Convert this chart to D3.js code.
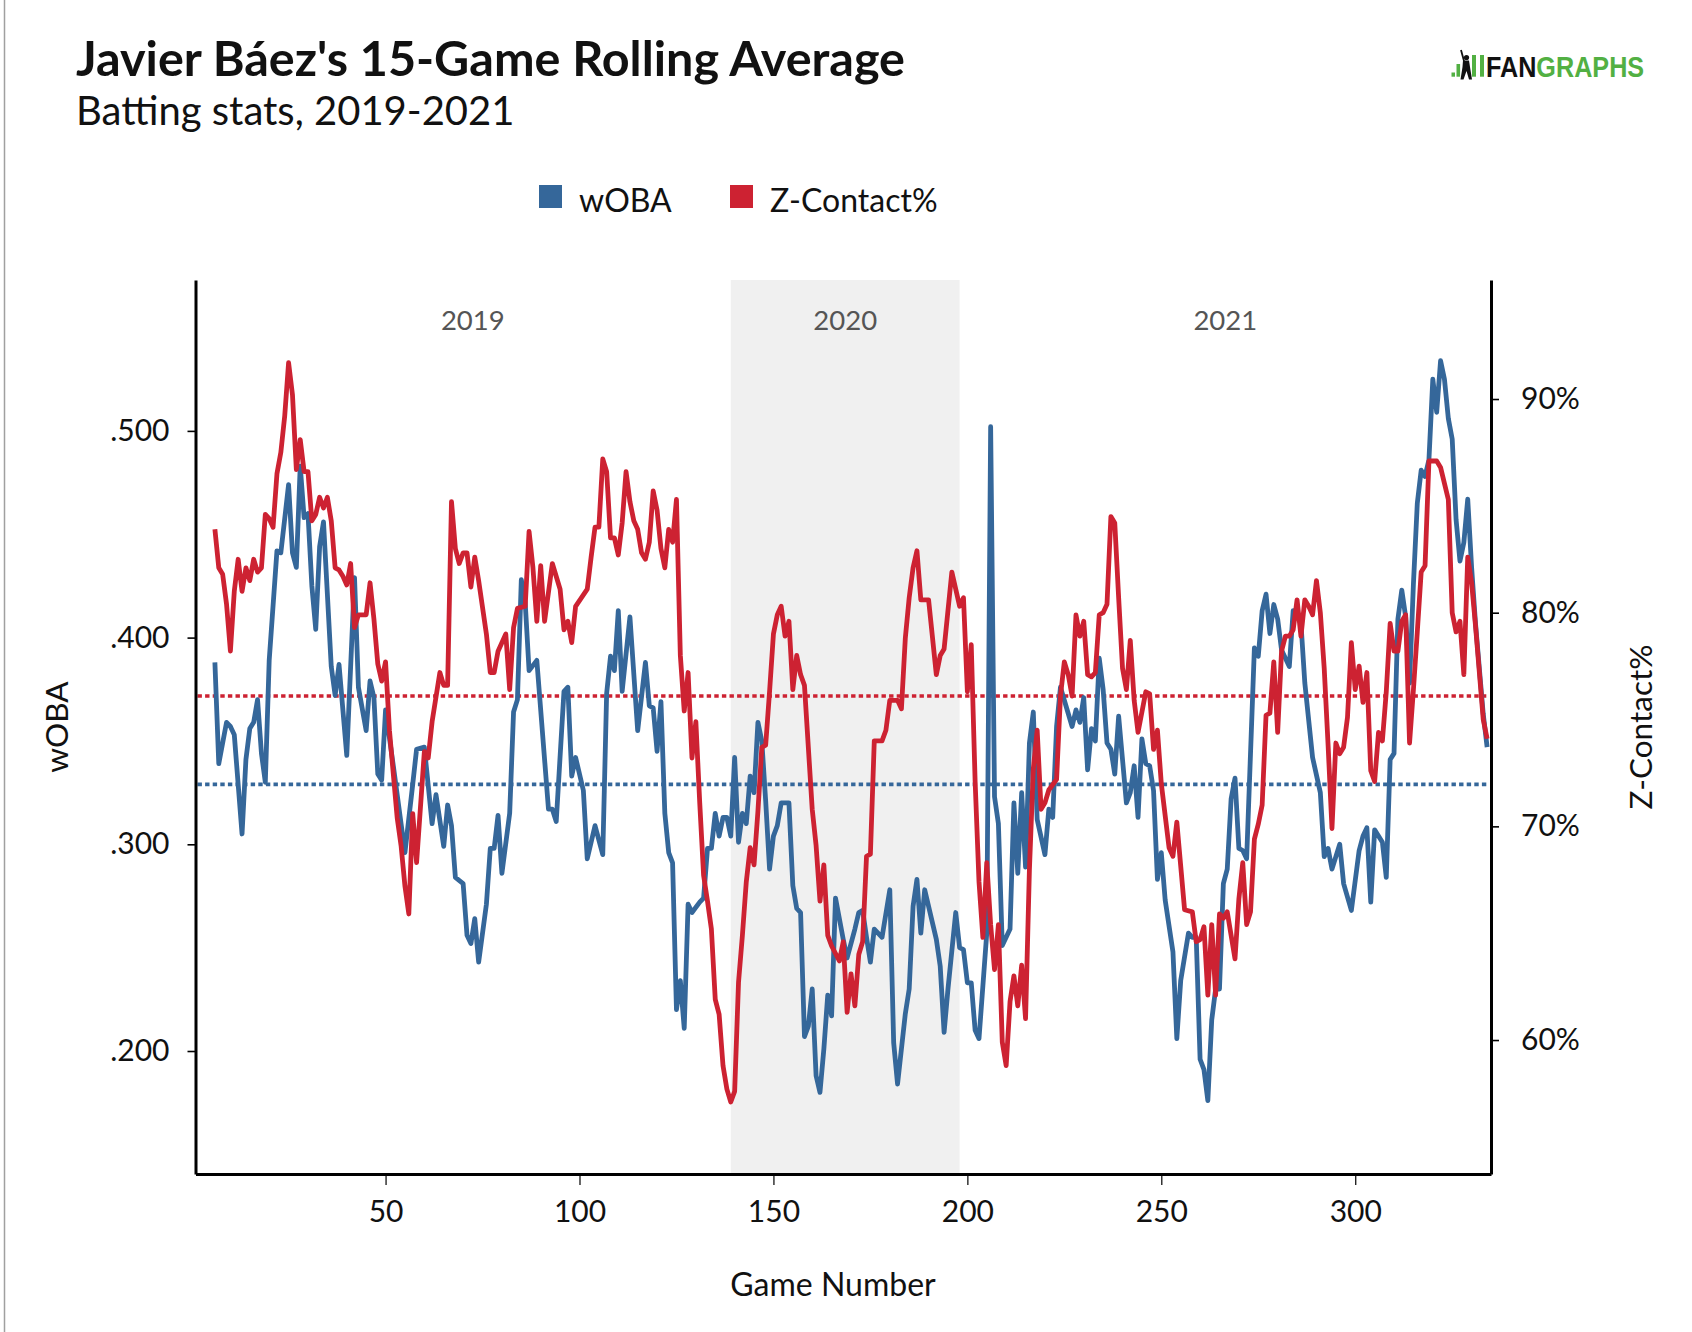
<!DOCTYPE html>
<html>
<head>
<meta charset="utf-8">
<script src="https://cdn.jsdelivr.net/npm/d3@7"></script>
<style>
  body { margin: 0; background: #fff; }
  svg { display: block; font-family: Lato, "Open Sans", sans-serif; }
</style>
</head>
<body>
<div id="chart"></div>
<script>
// 15-game rolling values (game number -> value)
var wobaGames = [6,7,9,10,11,13,14,15,16,17,
  18,19,20,22,23,25,26,27,28,29,
  30,31,32,33,34,36,37,38,40,42,
  43,45,46,47,48,49,50,52,55,57,
  58,60,62,63,65,66,67,68,70,71,
  72,73,74,76,77,78,79,80,82,83,
  84,85,86,87,89,92,93,94,96,97,
  98,99,101,102,104,106,107,108,109,110,
  111,113,115,117,118,119,120,121,122,123,
  124,125,126,127,128,129,131,132,133,134,
  135,136,137,138,139,140,141,142,143,144,
  145,146,147,148,149,150,151,152,154,155,
  156,157,158,159,160,161,162,163,164,165,
  166,168,169,171,172,173,174,175,176,178,
  180,181,182,184,185,186,187,188,189,191,
  192,193,194,195,197,198,199,200,201,202,
  203,205,206,207,208,209,211,212,213,214,
  215,216,217,218,220,221,222,223,224,227,
  228,229,230,231,232,233,234,235,236,237,
  238,239,241,242,243,244,245,246,247,248,
  249,250,251,253,254,255,257,258,259,260,
  261,262,263,264,265,266,267,268,269,270,
  271,272,274,275,276,277,278,279,280,281,
  283,284,285,286,287,289,291,292,293,294,
  296,297,299,301,302,303,304,305,307,308,
  309,310,311,312,313,314,315,316,317,318,
  319,320,321,322,323,324,325,326,327,328,
  329,330,331,333,334];
var wobaValues = [.388,.339,.359,.357,.353,.305,.341,.356,.359,.370,
  .344,.330,.389,.442,.441,.474,.441,.434,.483,.458,
  .460,.425,.404,.444,.456,.386,.372,.387,.343,.429,
  .376,.355,.379,.371,.334,.331,.365,.338,.296,.329,
  .346,.347,.310,.324,.299,.319,.309,.284,.281,.256,
  .252,.264,.243,.271,.298,.298,.314,.286,.315,.364,
  .370,.428,.417,.384,.389,.317,.317,.311,.374,.376,
  .333,.342,.326,.293,.309,.295,.373,.391,.384,.413,
  .374,.410,.355,.388,.367,.366,.345,.369,.315,.296,
  .291,.220,.234,.211,.271,.267,.272,.274,.298,.298,
  .315,.304,.313,.313,.304,.342,.301,.315,.310,.333,
  .325,.359,.350,.321,.288,.304,.309,.320,.320,.280,
  .269,.267,.207,.212,.230,.188,.180,.201,.227,.217,
  .274,.254,.245,.259,.267,.268,.255,.243,.259,.255,
  .278,.204,.184,.218,.230,.270,.283,.257,.278,.262,
  .254,.241,.209,.230,.267,.250,.249,.233,.233,.210,
  .206,.257,.502,.323,.310,.251,.259,.320,.286,.325,
  .289,.349,.364,.312,.295,.317,.313,.357,.376,.357,
  .365,.359,.371,.336,.356,.350,.390,.375,.349,.346,
  .334,.362,.320,.325,.338,.313,.351,.339,.338,.326,
  .283,.296,.273,.248,.206,.234,.257,.255,.255,.196,
  .191,.176,.215,.230,.230,.281,.288,.322,.332,.298,
  .297,.293,.395,.391,.413,.421,.402,.416,.409,.394,
  .386,.413,.413,.407,.378,.342,.325,.294,.298,.288,
  .300,.281,.268,.297,.304,.308,.272,.307,.301,.284,
  .341,.344,.409,.423,.410,.378,.426,.465,.481,.478,
  .486,.525,.509,.534,.525,.506,.496,.457,.437,.446,
  .467,.434,.407,.363,.347];

var zconGames = [6,7,8,9,10,11,12,13,14,15,
  16,17,18,19,20,21,22,23,24,25,
  26,27,28,29,30,31,32,33,34,35,
  36,37,38,39,40,41,42,43,45,46,
  47,48,49,50,51,53,54,55,56,57,
  58,60,61,62,64,65,66,67,68,69,
  70,71,72,73,74,76,77,78,79,81,
  82,83,84,86,87,88,89,90,91,93,
  95,96,97,98,99,102,103,104,105,106,
  107,108,109,110,111,112,113,114,115,116,
  117,118,119,120,121,122,123,124,125,126,
  127,128,129,130,131,132,133,134,135,136,
  137,138,139,140,141,142,143,144,145,146,
  147,148,149,150,151,152,153,154,155,156,
  157,158,160,161,162,163,164,165,167,168,
  169,170,171,172,173,174,175,176,178,179,
  180,182,183,184,185,186,187,188,190,192,
  193,194,196,198,199,200,201,202,203,204,
  205,206,207,208,209,210,211,212,213,214,
  215,216,217,218,219,220,221,223,224,225,
  226,227,228,229,230,231,232,233,234,235,
  236,237,238,239,240,241,242,243,244,246,
  247,248,249,250,252,253,254,256,258,259,
  260,261,262,263,264,265,266,267,269,270,
  271,272,273,274,275,276,277,278,279,280,
  281,282,283,284,285,286,287,288,289,290,
  291,292,293,294,295,296,297,298,299,300,
  301,302,303,304,305,306,307,308,309,310,
  311,312,313,314,315,316,317,318,319,321,
  322,324,325,326,327,328,329,330,331,333,
  334];
var zconValues = [83.9,82.1,81.8,80.4,78.2,81.0,82.5,81.0,82.1,81.5,
  82.5,81.9,82.1,84.6,84.4,84.0,86.5,87.5,89.2,91.7,
  90.2,86.7,88.1,86.6,86.6,84.3,84.6,85.4,84.9,85.4,
  84.3,82.1,82.0,81.7,81.3,82.3,79.3,79.9,79.9,81.4,
  79.7,77.6,76.8,77.7,74.5,70.4,69.1,67.2,65.9,70.6,
  68.3,73.5,73.2,74.9,77.2,76.6,76.6,85.2,83.0,82.3,
  82.8,82.8,81.2,82.6,81.5,79.0,77.2,77.2,78.2,79.0,
  76.4,79.3,80.2,80.3,83.8,82.1,79.6,82.2,79.6,82.3,
  81.1,79.2,79.6,78.6,80.3,81.1,82.6,84.0,84.0,87.2,
  86.6,83.5,83.5,82.7,84.2,86.6,85.2,84.3,83.9,82.8,
  82.5,83.3,85.7,84.8,83.0,82.1,83.9,83.3,85.3,78.0,
  75.4,77.2,73.2,74.9,71.1,67.7,66.5,65.2,61.9,61.2,
  58.8,57.7,57.1,57.6,62.7,64.9,67.4,69.0,68.2,70.7,
  73.7,73.8,76.3,79.0,79.9,80.3,78.9,79.6,76.4,78.0,
  77.1,76.6,70.8,69.1,66.5,68.2,64.9,64.4,63.7,64.6,
  61.3,63.1,61.6,64.0,64.6,68.6,68.7,74.0,74.0,74.5,
  75.9,75.9,75.5,78.8,80.7,82.1,82.9,80.6,80.6,77.1,
  78.0,78.3,81.9,80.3,80.7,76.3,78.5,72.1,67.4,64.8,
  68.3,65.4,63.3,65.4,59.9,58.8,61.8,63.0,61.6,63.5,
  61.0,68.0,72.7,74.5,70.8,71.1,71.7,72.2,76.1,77.7,
  77.1,76.1,79.9,78.9,79.6,77.1,77.0,77.2,79.9,80.0,
  80.4,84.5,84.2,80.7,77.4,76.4,78.7,75.9,74.4,76.3,
  76.2,73.6,74.5,72.0,69.0,68.6,70.2,66.1,66.0,64.6,
  64.7,65.3,62.1,65.4,62.1,65.9,65.7,66.0,63.8,66.6,
  68.3,65.4,66.0,69.4,70.1,71.0,75.2,75.3,77.7,74.4,
  78.2,78.9,78.9,79.2,80.6,78.9,80.6,80.3,79.9,81.5,
  80.0,77.4,73.8,69.9,73.9,73.4,73.7,75.1,78.6,76.4,
  77.5,75.8,77.2,72.6,72.1,74.4,74.0,76.3,79.5,78.2,
  78.2,79.6,79.9,73.9,76.4,79.1,81.9,82.2,87.1,87.1,
  86.8,85.3,80.0,79.1,79.6,77.1,82.6,81.4,79.4,75.0,
  74.1];

var wobaAverage = .329;
var zconAverage = 76.1;

var wobaTicks = [.200, .300, .400, .500];
var zconTicks = [60, 70, 80, 90];
var gameTicks = [50, 100, 150, 200, 250, 300];

var seasonYears = ["2019", "2020", "2021"];
var seasonFrom = [6, 139, 198];
var seasonTo = [139, 198, 335];

var seriesNames = ["wOBA", "Z-Contact%"];

var fg = {};
fg.RollingChart = function( parent ) {
  this._blue = "#35679a";
  this._red = "#cd2232";
  this._svg = d3.select( parent ).append( "svg" )
    .attr( "width", 1692 ).attr( "height", 1332 );
  this._x = d3.scaleLinear().domain( [ 1, 335 ] ).range( [ 195.5, 1491 ] );
  this._yL = d3.scaleLinear().domain( [ .1405, .573 ] ).range( [ 1174, 280 ] );
  this._yR = d3.scaleLinear().domain( [ 53.73, 95.57 ] ).range( [ 1174, 280 ] );
  this.drawHeader();
  this.drawPlot();
  this.drawAxes();
};

fg.RollingChart.prototype = {

  drawHeader: function() {
    var svg = this._svg;
    // thin frame line on the left edge
    svg.append( "line" ).attr( "x1", 4.5 ).attr( "x2", 4.5 )
      .attr( "y1", 0 ).attr( "y2", 1332 )
      .attr( "stroke", "#a0a0a0" ).attr( "stroke-width", 1.5 );

    svg.append( "text" ).attr( "x", 76 ).attr( "y", 76 )
      .attr( "font-size", 48.5 ).attr( "font-weight", 700 ).attr( "fill", "#111" )
      .text( "Javier B\u00e1ez's 15-Game Rolling Average" );
    svg.append( "text" ).attr( "x", 76 ).attr( "y", 125 )
      .attr( "font-size", 40 ).attr( "fill", "#111" )
      .text( "Batting stats, 2019-2021" );

    // legend
    var colors = [ this._blue, this._red ];
    var lx = [ 539, 730 ];
    var legend = svg.append( "g" ).attr( "class", "legend" );
    seriesNames.forEach( function( name, i ) {
      legend.append( "rect" ).attr( "x", lx[ i ] ).attr( "y", 185 )
        .attr( "width", 23 ).attr( "height", 23 ).attr( "fill", colors[ i ] );
      legend.append( "text" ).attr( "x", lx[ i ] + 40 ).attr( "y", 212 )
        .attr( "font-size", 32 ).attr( "fill", "#111" ).text( name );
    } );

    this.drawLogo();
  },

  drawLogo: function() {
    var g = this._svg.append( "g" ).attr( "class", "logo" );
    var green = "#52b043";
    g.append( "rect" ).attr( "x", 1451.5 ).attr( "y", 72.5 ).attr( "width", 3.5 ).attr( "height", 4.2 ).attr( "fill", green );
    g.append( "rect" ).attr( "x", 1456.5 ).attr( "y", 64 ).attr( "width", 3.6 ).attr( "height", 12.7 ).attr( "fill", green );
    g.append( "rect" ).attr( "x", 1472 ).attr( "y", 55 ).attr( "width", 4 ).attr( "height", 21.7 ).attr( "fill", green );
    g.append( "rect" ).attr( "x", 1480 ).attr( "y", 55 ).attr( "width", 4 ).attr( "height", 21.7 ).attr( "fill", green );
    // batter
    g.append( "line" ).attr( "x1", 1464 ).attr( "y1", 61 ).attr( "x2", 1461 ).attr( "y2", 50 )
      .attr( "stroke", "#111" ).attr( "stroke-width", 1.8 );
    g.append( "circle" ).attr( "cx", 1466.5 ).attr( "cy", 57.5 ).attr( "r", 2.6 ).attr( "fill", "#111" );
    g.append( "path" ).attr( "fill", "#111" )
      .attr( "d", "M1463,60.5 L1469,60.5 L1470,67 L1472,79.5 L1469,79.5 L1466.5,71 L1463.5,79.5 L1460.5,79.5 L1462.5,67 Z" );
    // condensed word mark: squeeze horizontally instead of textLength
    var word = g.append( "text" ).attr( "transform", "translate(1486,76.7) scale(0.84,1)" )
      .attr( "font-family", "'Liberation Sans', Arial, sans-serif" ).attr( "font-weight", 700 )
      .attr( "font-size", 30 );
    word.append( "tspan" ).attr( "fill", "#111" ).text( "FAN" );
    word.append( "tspan" ).attr( "fill", green ).text( "GRAPHS" );
  },

  drawPlot: function() {
    var svg = this._svg, x = this._x, yL = this._yL, yR = this._yR;
    var top = yL.range()[ 1 ], bottom = yL.range()[ 0 ];

    // shortened 2020 season band
    svg.append( "rect" ).attr( "x", x( seasonFrom[ 1 ] ) ).attr( "y", top )
      .attr( "width", x( seasonTo[ 1 ] ) - x( seasonFrom[ 1 ] ) ).attr( "height", bottom - top )
      .attr( "fill", "#f0f0f0" );

    svg.append( "g" ).selectAll( "text" ).data( seasonYears ).enter().append( "text" )
      .attr( "x", function( d, i ) { return ( x( seasonFrom[ i ] ) + x( seasonTo[ i ] ) ) / 2; } )
      .attr( "y", 330 ).attr( "text-anchor", "middle" )
      .attr( "font-size", 27.5 ).attr( "fill", "#555" ).text( function( d ) { return d; } );

    // season averages
    svg.append( "line" ).attr( "x1", x.range()[ 0 ] + 2 ).attr( "x2", x.range()[ 1 ] - 2 )
      .attr( "y1", yR( zconAverage ) ).attr( "y2", yR( zconAverage ) )
      .attr( "stroke", this._red ).attr( "stroke-width", 3.6 ).attr( "stroke-dasharray", "4.4,3.2" );
    svg.append( "line" ).attr( "x1", x.range()[ 0 ] + 2 ).attr( "x2", x.range()[ 1 ] - 2 )
      .attr( "y1", yL( wobaAverage ) ).attr( "y2", yL( wobaAverage ) )
      .attr( "stroke", this._blue ).attr( "stroke-width", 3.6 ).attr( "stroke-dasharray", "4.4,3.2" );

    var wobaLine = d3.line().x( function( d ) { return x( d[ 0 ] ); } ).y( function( d ) { return yL( d[ 1 ] ); } );
    var zconLine = d3.line().x( function( d ) { return x( d[ 0 ] ); } ).y( function( d ) { return yR( d[ 1 ] ); } );

    svg.append( "path" ).datum( d3.zip( wobaGames, wobaValues ) )
      .attr( "d", wobaLine ).attr( "fill", "none" ).attr( "stroke", this._blue )
      .attr( "stroke-width", 4.8 ).attr( "stroke-linejoin", "round" );
    svg.append( "path" ).datum( d3.zip( zconGames, zconValues ) )
      .attr( "d", zconLine ).attr( "fill", "none" ).attr( "stroke", this._red )
      .attr( "stroke-width", 4.8 ).attr( "stroke-linejoin", "round" );
  },

  drawAxes: function() {
    var svg = this._svg, x = this._x, yL = this._yL, yR = this._yR;
    var bottom = yL.range()[ 0 ];

    var left = svg.append( "g" ).attr( "transform", "translate(" + x.range()[ 0 ] + ",0)" )
      .call( d3.axisLeft( yL ).tickValues( wobaTicks ).tickSizeInner( 8 ).tickSizeOuter( 0 ).tickPadding( 18 )
        .tickFormat( function( d ) { return d3.format( ".3f" )( d ).replace( /^0/, "" ); } ) );
    var right = svg.append( "g" ).attr( "transform", "translate(" + x.range()[ 1 ] + ",0)" )
      .call( d3.axisRight( yR ).tickValues( zconTicks ).tickSizeInner( 8 ).tickSizeOuter( 0 ).tickPadding( 22 )
        .tickFormat( function( d ) { return d + "%"; } ) );
    var bot = svg.append( "g" ).attr( "transform", "translate(0," + bottom + ")" )
      .call( d3.axisBottom( x ).tickValues( gameTicks ).tickSizeInner( 11 ).tickSizeOuter( 0 ).tickPadding( 16 ) );

    [ left, right, bot ].forEach( function( g ) {
      g.select( ".domain" ).attr( "stroke", "#000" ).attr( "stroke-width", 3 );
      g.selectAll( ".tick line" ).attr( "stroke", "#000" ).attr( "stroke-width", 1.6 );
      g.selectAll( ".tick text" ).attr( "font-family", "Lato, sans-serif" )
        .attr( "font-size", 30 ).attr( "fill", "#111" );
    } );
    bot.selectAll( ".tick line" ).attr( "stroke-width", 1.2 );

    svg.append( "text" ).attr( "transform", "translate(68,727) rotate(-90)" )
      .attr( "text-anchor", "middle" ).attr( "font-size", 31.5 ).attr( "fill", "#111" ).text( "wOBA" );
    svg.append( "text" ).attr( "transform", "translate(1652,727) rotate(-90)" )
      .attr( "text-anchor", "middle" ).attr( "font-size", 31.5 ).attr( "fill", "#111" ).text( "Z-Contact%" );
    svg.append( "text" ).attr( "x", 833 ).attr( "y", 1296 )
      .attr( "text-anchor", "middle" ).attr( "font-size", 32 ).attr( "fill", "#111" ).text( "Game Number" );
  }
};

new fg.RollingChart( document.getElementById( "chart" ) );
</script>
</body>
</html>
